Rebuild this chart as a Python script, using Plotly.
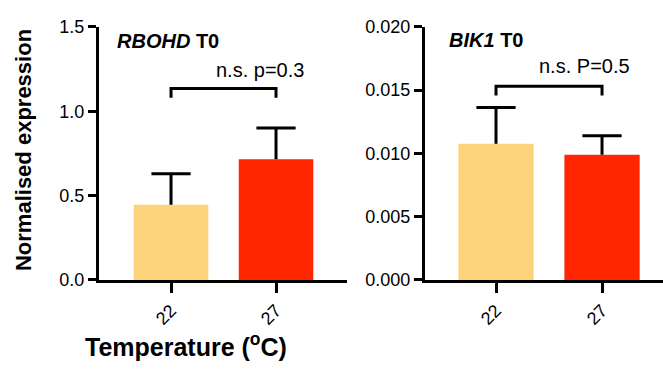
import plotly.graph_objects as go

temps = ["22", "27"]
colors = ["#FDD47C", "#FF2600"]

rbohd_mean = [0.446, 0.715]
rbohd_err = [0.184, 0.185]
bik1_mean = [0.01077, 0.0099]
bik1_err = [0.00286, 0.0015]

rbohd_bracket = [1.135, 1.08]   # top, foot
bik1_bracket = [0.0153, 0.01457]

rbohd_label = "n.s. p=0.3"
bik1_label = "n.s. P=0.5"

FONT = "Liberation Sans, Arial, Helvetica, sans-serif"

fig = go.Figure()
for xa, ya, mean, err in [("x", "y", rbohd_mean, rbohd_err), ("x2", "y2", bik1_mean, bik1_err)]:
    fig.add_trace(go.Bar(x=temps, y=mean, marker=dict(color=colors, line=dict(width=0)),
                         width=0.71, xaxis=xa, yaxis=ya))
    tops = [m + e for m, e in zip(mean, err)]
    # upward-only error bar: stem via error_y (no caps), cap via line marker at the top
    fig.add_trace(go.Scatter(x=temps, y=tops, mode="markers", xaxis=xa, yaxis=ya,
                             marker=dict(symbol="line-ew", size=28, color="black",
                                         line=dict(width=3, color="black")),
                             error_y=dict(type="data", symmetric=False, array=[0, 0],
                                          arrayminus=err, thickness=3, width=0, color="black"),
                             hoverinfo="skip"))

axis_common = dict(showline=True, linewidth=3, linecolor="black", showgrid=False, zeroline=False,
                   ticks="outside", tickwidth=3, tickcolor="black",
                   tickfont=dict(family=FONT, size=18, color="black"))

ydom = [0.231, 0.952]
fig.update_layout(
    width=663, height=371, margin=dict(l=0, r=0, t=0, b=0),
    paper_bgcolor="white", plot_bgcolor="white", showlegend=False,
    xaxis=dict(domain=[0.1493, 0.5234], type="category", range=[-0.686, 1.676],
               tickangle=-45, ticklen=10, anchor="y", **axis_common),
    yaxis=dict(domain=ydom, range=[0, 1.5], dtick=0.5, tickformat=".1f", ticklen=8,
               anchor="x", **axis_common),
    xaxis2=dict(domain=[0.641, 1.0], type="category", range=[-0.670, 1.575],
                tickangle=-45, ticklen=10, anchor="y2", **axis_common),
    yaxis2=dict(domain=ydom, range=[0, 0.02], dtick=0.005, tickformat=".3f", ticklen=8,
                anchor="x2", **axis_common),
)

# significance brackets
for xr, yr, br in [("x", "y", rbohd_bracket), ("x2", "y2", bik1_bracket)]:
    top, foot = br
    fig.add_shape(type="path", xref=xr, yref=yr,
                  path=f"M 0 {foot} L 0 {top} L 1 {top} L 1 {foot}",
                  line=dict(color="black", width=3))

fig.add_annotation(x=0.85, y=1.247, xref="x", yref="y", text=rbohd_label, showarrow=False,
                   font=dict(family=FONT, size=20, color="black"))
fig.add_annotation(x=0.83, y=0.01687, xref="x2", yref="y2", text=bik1_label, showarrow=False,
                   font=dict(family=FONT, size=20, color="black"))

fig.add_annotation(x=-0.533, y=1.416, xref="x", yref="y", xanchor="left",
                   text="<b><i>RBOHD</i> T0</b>", showarrow=False,
                   font=dict(family=FONT, size=20, color="black"))
fig.add_annotation(x=-0.462, y=0.01896, xref="x2", yref="y2", xanchor="left",
                   text="<b><i>BIK1</i> T0</b>", showarrow=False,
                   font=dict(family=FONT, size=20, color="black"))

fig.add_annotation(x=23 / 663, y=1 - 148 / 371, xref="paper", yref="paper",
                   xanchor="center", yanchor="middle",
                   text="<b>Normalised expression</b>", textangle=-90, showarrow=False,
                   font=dict(family=FONT, size=22, color="black"))
fig.add_annotation(x=186 / 663, y=1 - 354 / 371, xref="paper", yref="paper",
                   xanchor="center", yanchor="middle",
                   text="<b>Temperature (<sup>o</sup>C)</b>", showarrow=False,
                   font=dict(family=FONT, size=25, color="black"))

fig.write_html("out.html")
